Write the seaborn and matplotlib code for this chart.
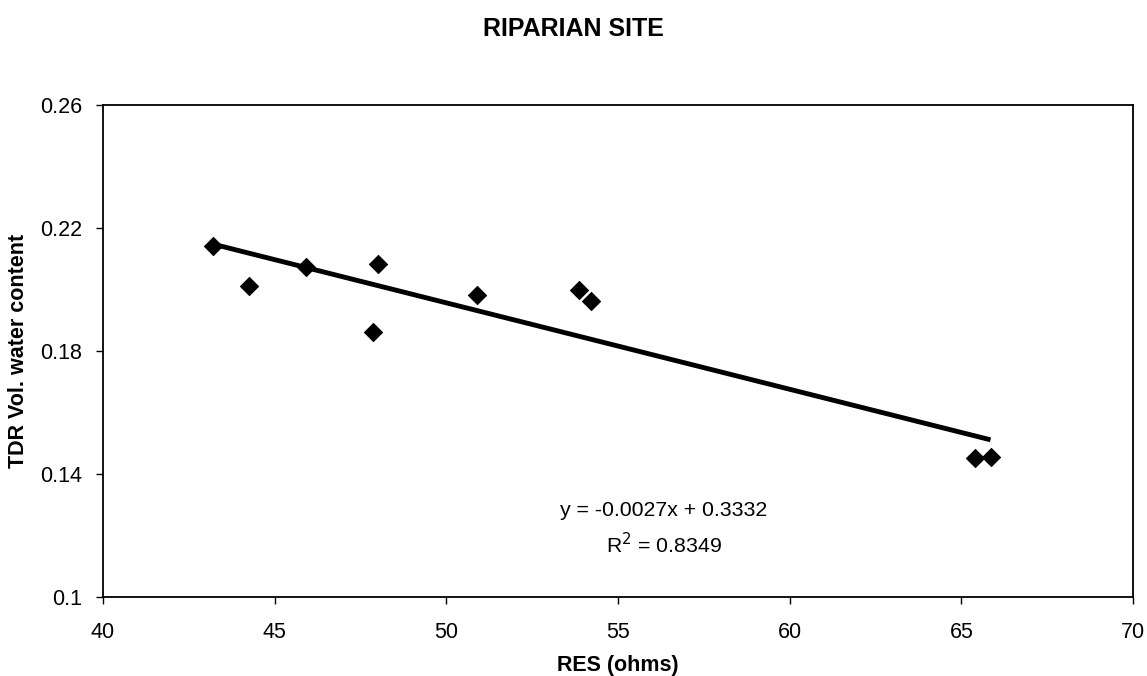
import matplotlib
matplotlib.use("Agg")
import matplotlib.pyplot as plt
import seaborn as sns
import numpy as np
import pandas as pd

res_ohms = [43.2, 44.25, 45.9, 47.85, 48.0, 50.9, 53.85, 54.2, 65.4, 65.85]
tdr_vwc = [0.2141, 0.2011, 0.2073, 0.1862, 0.2083, 0.1982, 0.1998, 0.1963, 0.1452, 0.1455]
x_ticks = [40, 45, 50, 55, 60, 65, 70]
y_ticks = [0.1, 0.14, 0.18, 0.22, 0.26]
y_tick_labels = ["0.1", "0.14", "0.18", "0.22", "0.26"]
eq_text = "y = -0.0027x + 0.3332"
r2_text = "R$^2$ = 0.8349"

sns.set_theme(style="white")
plt.rcParams['font.family'] = ['Liberation Sans', 'DejaVu Sans']
plt.rcParams['text.color'] = 'black'
plt.rcParams['axes.labelcolor'] = 'black'
plt.rcParams['xtick.color'] = 'black'
plt.rcParams['ytick.color'] = 'black'

df = pd.DataFrame({"res": res_ohms, "vwc": tdr_vwc})

fig = plt.figure(figsize=(11.47, 6.76), dpi=100)
ax = fig.add_axes([0.0898, 0.1169, 0.898, 0.7278])

sns.regplot(data=df, x="res", y="vwc", ax=ax, scatter=False, ci=None,
            truncate=True, line_kws=dict(color="black", lw=3.5, solid_capstyle="butt"))
sns.scatterplot(data=df, x="res", y="vwc", ax=ax, marker="D", s=85,
                color="black", edgecolor="black", zorder=3)

ax.set_xlim(40, 70)
ax.set_ylim(0.1, 0.26)
ax.set_xticks(x_ticks)
ax.set_yticks(y_ticks)
ax.set_yticklabels(y_tick_labels)
ax.tick_params(axis="both", labelsize=15.5, direction="out", length=5, width=1,
               color="black", bottom=True, left=True)
ax.tick_params(axis="x", pad=13)
ax.tick_params(axis="y", pad=10)
for sp in ax.spines.values():
    sp.set_color("black")
    sp.set_linewidth(1.3)

ax.set_xlabel("RES (ohms)", fontsize=15.5, fontweight="bold", labelpad=9)
ax.set_ylabel("TDR Vol. water content", fontsize=15.5, fontweight="bold", labelpad=8)
fig.suptitle("RIPARIAN SITE", fontsize=18, fontweight="bold", y=0.975)

ax.text(56.33, 0.1280, eq_text, ha="center", va="center", fontsize=15.3)
ax.text(56.33, 0.1169, r2_text, ha="center", va="center", fontsize=15.3)

fig.savefig("out.png", dpi=100)
